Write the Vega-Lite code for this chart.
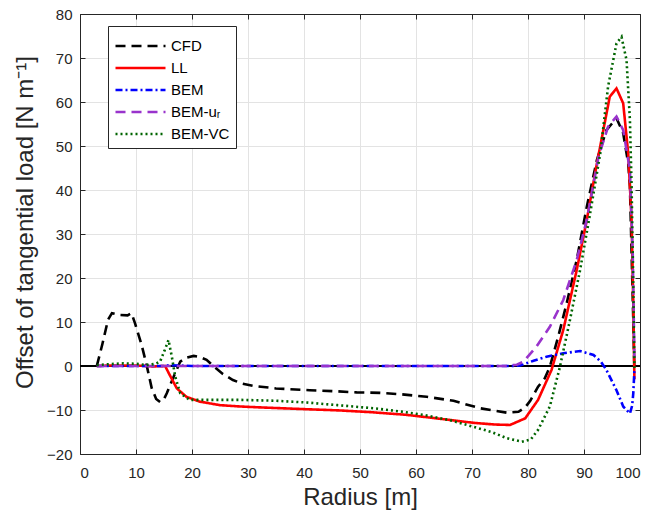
{
  "$schema": "https://vega.github.io/schema/vega-lite/v6.json",
  "width": 560,
  "height": 440,
  "autosize": {"type": "none"},
  "padding": {"left": 80, "top": 14, "right": 16, "bottom": 60},
  "background": "white",
  "config": {
    "font": "Liberation Sans",
    "view": {"stroke": "#262626", "strokeWidth": 1},
    "axis": {
      "labelFont": "Liberation Sans",
      "titleFont": "Liberation Sans",
      "labelFontSize": 15,
      "labelColor": "#262626",
      "titleColor": "#262626",
      "titleFontSize": 24,
      "titleFontWeight": "normal",
      "domainColor": "#262626",
      "tickColor": "#262626",
      "gridColor": "#e3e3e3",
      "gridWidth": 1
    }
  },
  "data": {
    "values": [
      {"s": "CFD", "r": 3, "v": 0}, {"s": "CFD", "r": 4, "v": 5}, {"s": "CFD", "r": 5, "v": 10.5}, {"s": "CFD", "r": 5.7, "v": 12}, {"s": "CFD", "r": 7, "v": 11.6}, {"s": "CFD", "r": 8.5, "v": 11.5}, {"s": "CFD", "r": 9.2, "v": 12}, {"s": "CFD", "r": 9.8, "v": 9.8}, {"s": "CFD", "r": 11, "v": 4.8}, {"s": "CFD", "r": 11.9, "v": 0.2}, {"s": "CFD", "r": 12.8, "v": -5}, {"s": "CFD", "r": 13.6, "v": -7.5}, {"s": "CFD", "r": 14.3, "v": -8.2}, {"s": "CFD", "r": 15, "v": -7.5}, {"s": "CFD", "r": 15.5, "v": -6.2}, {"s": "CFD", "r": 16.2, "v": -4}, {"s": "CFD", "r": 17, "v": -1.6}, {"s": "CFD", "r": 17.9, "v": 1}, {"s": "CFD", "r": 19, "v": 1.9}, {"s": "CFD", "r": 20.3, "v": 2.3}, {"s": "CFD", "r": 21.5, "v": 2}, {"s": "CFD", "r": 22.6, "v": 1.4}, {"s": "CFD", "r": 23.8, "v": 0}, {"s": "CFD", "r": 25.5, "v": -1.8}, {"s": "CFD", "r": 27.3, "v": -3.2}, {"s": "CFD", "r": 29, "v": -4}, {"s": "CFD", "r": 30.9, "v": -4.5}, {"s": "CFD", "r": 35, "v": -5.1}, {"s": "CFD", "r": 41, "v": -5.5}, {"s": "CFD", "r": 45, "v": -5.7}, {"s": "CFD", "r": 49.4, "v": -6}, {"s": "CFD", "r": 53.6, "v": -6.1}, {"s": "CFD", "r": 57.1, "v": -6.4}, {"s": "CFD", "r": 61.9, "v": -7}, {"s": "CFD", "r": 66.7, "v": -7.9}, {"s": "CFD", "r": 71.4, "v": -9.6}, {"s": "CFD", "r": 76.2, "v": -10.6}, {"s": "CFD", "r": 78.3, "v": -10.4}, {"s": "CFD", "r": 79.5, "v": -9.4}, {"s": "CFD", "r": 80.4, "v": -7.9}, {"s": "CFD", "r": 81.8, "v": -4.7}, {"s": "CFD", "r": 83, "v": -2.8}, {"s": "CFD", "r": 83.9, "v": -0.2}, {"s": "CFD", "r": 85.4, "v": 6.7}, {"s": "CFD", "r": 86.9, "v": 14.2}, {"s": "CFD", "r": 88.7, "v": 24.1}, {"s": "CFD", "r": 90.5, "v": 36.2}, {"s": "CFD", "r": 92.3, "v": 46.8}, {"s": "CFD", "r": 94, "v": 53.6}, {"s": "CFD", "r": 95.8, "v": 56.3}, {"s": "CFD", "r": 97, "v": 52.9}, {"s": "CFD", "r": 97.9, "v": 46}, {"s": "CFD", "r": 98.2, "v": 40.8}, {"s": "CFD", "r": 98.5, "v": 25.6}, {"s": "CFD", "r": 98.8, "v": 10.5}, {"s": "CFD", "r": 99, "v": -1},

      {"s": "LL", "r": 3, "v": 0}, {"s": "LL", "r": 5, "v": 0.1}, {"s": "LL", "r": 8, "v": 0.1}, {"s": "LL", "r": 10, "v": 0.1}, {"s": "LL", "r": 12, "v": 0}, {"s": "LL", "r": 13, "v": -0.1}, {"s": "LL", "r": 15.2, "v": 0}, {"s": "LL", "r": 16, "v": -2}, {"s": "LL", "r": 17.3, "v": -5.1}, {"s": "LL", "r": 19, "v": -7}, {"s": "LL", "r": 21.4, "v": -8.1}, {"s": "LL", "r": 25, "v": -8.9}, {"s": "LL", "r": 28.6, "v": -9.2}, {"s": "LL", "r": 32, "v": -9.4}, {"s": "LL", "r": 40, "v": -9.8}, {"s": "LL", "r": 46.4, "v": -10.1}, {"s": "LL", "r": 52, "v": -10.5}, {"s": "LL", "r": 58.3, "v": -11.1}, {"s": "LL", "r": 64.3, "v": -12}, {"s": "LL", "r": 70.2, "v": -12.9}, {"s": "LL", "r": 74, "v": -13.3}, {"s": "LL", "r": 76.8, "v": -13.4}, {"s": "LL", "r": 79.5, "v": -11.9}, {"s": "LL", "r": 81.8, "v": -7.7}, {"s": "LL", "r": 84.2, "v": -0.9}, {"s": "LL", "r": 86.3, "v": 8.2}, {"s": "LL", "r": 88.7, "v": 21.8}, {"s": "LL", "r": 90.5, "v": 33.2}, {"s": "LL", "r": 92.3, "v": 46}, {"s": "LL", "r": 94.6, "v": 61.2}, {"s": "LL", "r": 95.8, "v": 63.1}, {"s": "LL", "r": 97, "v": 59.7}, {"s": "LL", "r": 97.9, "v": 48.3}, {"s": "LL", "r": 98.5, "v": 33.2}, {"s": "LL", "r": 98.8, "v": 14.2}, {"s": "LL", "r": 99, "v": -3},

      {"s": "BEM", "r": 3, "v": 0}, {"s": "BEM", "r": 10, "v": 0}, {"s": "BEM", "r": 15, "v": 0}, {"s": "BEM", "r": 16, "v": 0.2}, {"s": "BEM", "r": 20, "v": 0}, {"s": "BEM", "r": 30, "v": 0}, {"s": "BEM", "r": 40, "v": 0}, {"s": "BEM", "r": 50, "v": 0}, {"s": "BEM", "r": 60, "v": 0}, {"s": "BEM", "r": 70, "v": 0}, {"s": "BEM", "r": 77, "v": 0}, {"s": "BEM", "r": 78.6, "v": 0.1}, {"s": "BEM", "r": 81, "v": 1.2}, {"s": "BEM", "r": 83.3, "v": 2.1}, {"s": "BEM", "r": 86.3, "v": 2.9}, {"s": "BEM", "r": 89.3, "v": 3.4}, {"s": "BEM", "r": 91.7, "v": 2.5}, {"s": "BEM", "r": 93, "v": 1}, {"s": "BEM", "r": 94, "v": -0.9}, {"s": "BEM", "r": 95.8, "v": -5.5}, {"s": "BEM", "r": 97, "v": -9.2}, {"s": "BEM", "r": 98.2, "v": -10.8}, {"s": "BEM", "r": 98.6, "v": -9}, {"s": "BEM", "r": 98.8, "v": -6.2}, {"s": "BEM", "r": 99, "v": -1},

      {"s": "BEM-uᵣ", "r": 3, "v": 0}, {"s": "BEM-uᵣ", "r": 10, "v": 0}, {"s": "BEM-uᵣ", "r": 20, "v": 0}, {"s": "BEM-uᵣ", "r": 40, "v": 0}, {"s": "BEM-uᵣ", "r": 60, "v": 0}, {"s": "BEM-uᵣ", "r": 76, "v": 0}, {"s": "BEM-uᵣ", "r": 78, "v": 0.3}, {"s": "BEM-uᵣ", "r": 79.2, "v": 1}, {"s": "BEM-uᵣ", "r": 81.5, "v": 4.4}, {"s": "BEM-uᵣ", "r": 83.9, "v": 8.9}, {"s": "BEM-uᵣ", "r": 86.3, "v": 15}, {"s": "BEM-uᵣ", "r": 88.7, "v": 24.1}, {"s": "BEM-uᵣ", "r": 90.5, "v": 33.2}, {"s": "BEM-uᵣ", "r": 92.6, "v": 47.6}, {"s": "BEM-uᵣ", "r": 94.3, "v": 54.4}, {"s": "BEM-uᵣ", "r": 95.8, "v": 56.7}, {"s": "BEM-uᵣ", "r": 97, "v": 53.6}, {"s": "BEM-uᵣ", "r": 98.2, "v": 44.5}, {"s": "BEM-uᵣ", "r": 98.7, "v": 25.6}, {"s": "BEM-uᵣ", "r": 99, "v": 2},

      {"s": "BEM-VC", "r": 3, "v": 0.2}, {"s": "BEM-VC", "r": 5, "v": 0.4}, {"s": "BEM-VC", "r": 7.7, "v": 0.6}, {"s": "BEM-VC", "r": 10, "v": 0.5}, {"s": "BEM-VC", "r": 11.9, "v": 0.2}, {"s": "BEM-VC", "r": 13.5, "v": 0.5}, {"s": "BEM-VC", "r": 14.3, "v": 1}, {"s": "BEM-VC", "r": 15.1, "v": 3.5}, {"s": "BEM-VC", "r": 15.8, "v": 5.9}, {"s": "BEM-VC", "r": 16.4, "v": 2.1}, {"s": "BEM-VC", "r": 17, "v": -2.4}, {"s": "BEM-VC", "r": 17.9, "v": -6.2}, {"s": "BEM-VC", "r": 19.6, "v": -7.7}, {"s": "BEM-VC", "r": 23.8, "v": -7.7}, {"s": "BEM-VC", "r": 28.6, "v": -7.7}, {"s": "BEM-VC", "r": 35, "v": -7.9}, {"s": "BEM-VC", "r": 40.5, "v": -8.3}, {"s": "BEM-VC", "r": 46, "v": -8.9}, {"s": "BEM-VC", "r": 52.4, "v": -9.6}, {"s": "BEM-VC", "r": 57, "v": -10.3}, {"s": "BEM-VC", "r": 61.3, "v": -11.1}, {"s": "BEM-VC", "r": 66, "v": -12.3}, {"s": "BEM-VC", "r": 70.2, "v": -13.8}, {"s": "BEM-VC", "r": 73.5, "v": -15}, {"s": "BEM-VC", "r": 76.2, "v": -16.4}, {"s": "BEM-VC", "r": 78.9, "v": -17.2}, {"s": "BEM-VC", "r": 80.5, "v": -16.7}, {"s": "BEM-VC", "r": 81.8, "v": -14.5}, {"s": "BEM-VC", "r": 83.9, "v": -9.2}, {"s": "BEM-VC", "r": 85.7, "v": -0.2}, {"s": "BEM-VC", "r": 87.5, "v": 10.5}, {"s": "BEM-VC", "r": 89.3, "v": 21.8}, {"s": "BEM-VC", "r": 91.1, "v": 34.7}, {"s": "BEM-VC", "r": 92.9, "v": 48.3}, {"s": "BEM-VC", "r": 94.3, "v": 63.5}, {"s": "BEM-VC", "r": 95.8, "v": 73.3}, {"s": "BEM-VC", "r": 96.7, "v": 74.8}, {"s": "BEM-VC", "r": 97.6, "v": 69.5}, {"s": "BEM-VC", "r": 98.2, "v": 55.9}, {"s": "BEM-VC", "r": 98.5, "v": 40.8}, {"s": "BEM-VC", "r": 98.8, "v": 18}, {"s": "BEM-VC", "r": 99, "v": -1}
    ]
  },
  "resolve": {"axis": {"x": "independent", "y": "independent"}},
  "layer": [
    {
      "mark": {"type": "rule", "color": "black", "strokeWidth": 1},
      "encoding": {
        "x": {"datum": 0, "type": "quantitative", "scale": {"domain": [0, 100], "nice": false},
          "axis": {"orient": "top", "labels": false, "title": null, "grid": false, "tickSize": -5, "values": [0,10,20,30,40,50,60,70,80,90,100]}},
        "x2": {"datum": 100},
        "y": {"datum": 0, "type": "quantitative", "scale": {"domain": [-20, 80], "nice": false},
          "axis": {"orient": "right", "labels": false, "title": null, "grid": false, "tickSize": -5, "values": [-20,-10,0,10,20,30,40,50,60,70,80]}}
      }
    },
    {
      "mark": {"type": "line", "strokeWidth": 2.6, "clip": true},
      "encoding": {
        "x": {"field": "r", "type": "quantitative", "scale": {"domain": [0, 100], "nice": false},
          "axis": {"title": "Radius [m]", "values": [0,10,20,30,40,50,60,70,80,90,100], "tickSize": -5, "labelPadding": 16, "titlePadding": 5, "grid": true}},
        "y": {"field": "v", "type": "quantitative", "scale": {"domain": [-20, 80], "nice": false},
          "axis": {"title": "Offset of tangential load [N m⁻¹]", "values": [-20,-10,0,10,20,30,40,50,60,70,80], "tickSize": -5, "labelPadding": 13, "titlePadding": 9, "titleY": 208, "grid": true}},
        "color": {"field": "s", "type": "nominal",
          "scale": {"domain": ["CFD", "LL", "BEM", "BEM-uᵣ", "BEM-VC"], "range": ["#000000", "#ff0000", "#0000ff", "#9933cc", "#006400"]},
          "legend": {"title": null, "orient": "none", "legendX": 28, "legendY": 12, "symbolType": "M -1 0 L 3 0", "symbolSize": 625, "symbolStrokeWidth": 2.5, "labelFontSize": 15, "labelColor": "#000000", "labelFont": "Liberation Sans", "strokeColor": "#262626", "fillColor": "white", "padding": 6, "rowPadding": 0, "labelOffset": 29}},
        "strokeDash": {"field": "s", "type": "nominal",
          "scale": {"domain": ["CFD", "LL", "BEM", "BEM-uᵣ", "BEM-VC"], "range": [[10, 6], [1, 0], [7, 3, 2, 3], [10, 6], [2, 3]]},
          "legend": {"title": null, "orient": "none", "legendX": 28, "legendY": 12, "symbolType": "M -1 0 L 3 0", "symbolSize": 625, "symbolStrokeWidth": 2.5, "labelFontSize": 15, "labelColor": "#000000", "labelFont": "Liberation Sans", "strokeColor": "#262626", "fillColor": "white", "padding": 6, "rowPadding": 0, "labelOffset": 29}}
      }
    }
  ]
}
